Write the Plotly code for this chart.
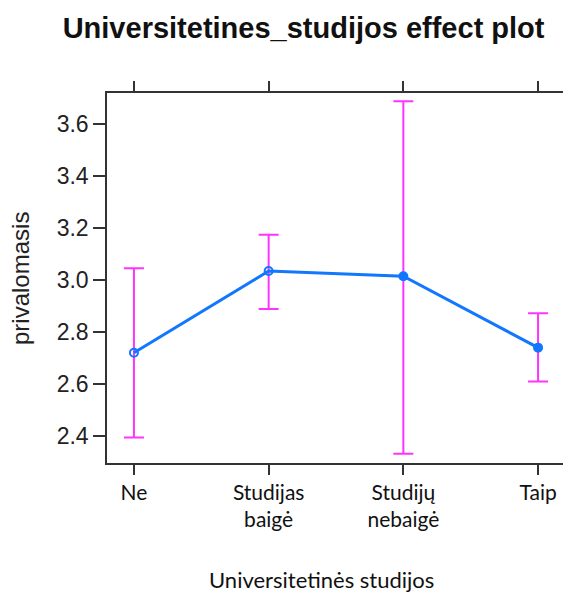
import plotly.graph_objects as go

categories = ["Ne", "Studijas<br>baigė", "Studijų<br>nebaigė", "Taip"]
fit = [2.72, 3.035, 3.015, 2.74]
upper = [3.046, 3.174, 3.688, 2.872]
lower = [2.394, 2.889, 2.332, 2.61]
y_ticks = [2.4, 2.6, 2.8, 3.0, 3.2, 3.4, 3.6]
marker_symbols = ["circle-open", "circle-open", "circle", "circle"]

xpos = list(range(len(categories)))
err_plus = [u - f for u, f in zip(upper, fit)]
err_minus = [f - l for f, l in zip(fit, lower)]

fig = go.Figure()
fig.add_trace(go.Scatter(
    x=xpos, y=fit, mode="markers",
    marker=dict(size=0.1, color="rgba(0,0,0,0)"),
    error_y=dict(type="data", symmetric=False, array=err_plus, arrayminus=err_minus,
                 color="#FF33FF", thickness=2, width=10),
    showlegend=False, hoverinfo="skip"))
fig.add_trace(go.Scatter(
    x=xpos, y=fit, mode="lines+markers",
    line=dict(color="#1177FF", width=3),
    marker=dict(size=8, color="#1177FF", symbol=marker_symbols, line=dict(width=2, color="#1177FF")),
    showlegend=False))

axis_common = dict(showline=True, linecolor="#333333", linewidth=1.5, mirror="ticks",
                   ticks="outside", tickcolor="#333333", tickwidth=1.5, showgrid=False,
                   zeroline=False, automargin=False)

fig.update_layout(
    width=563, height=586,
    margin=dict(l=99, r=6, t=85, b=131),
    paper_bgcolor="white", plot_bgcolor="white",
    title=dict(text="<b>Universitetines_studijos effect plot</b>", x=0.525, xanchor="center",
               y=1 - 20 / 586, yanchor="middle", font=dict(family="Liberation Sans, Arial", size=29, color="#111111")),
    xaxis=dict(tickmode="array", tickvals=xpos, ticktext=categories, range=[-0.2, 3.2],
               ticklen=10, tickfont=dict(family="Lato, Open Sans", size=21, color="#111111"),
               **axis_common),
    yaxis=dict(tickmode="array", tickvals=y_ticks, ticktext=[f"{v:.1f}" for v in y_ticks],
               range=[2.296, 3.72], ticklen=12,
               tickfont=dict(family="Liberation Sans, Arial", size=23, color="#222222"),
               **axis_common),
    annotations=[
        dict(text="privalomasis", xref="paper", yref="paper", x=-0.19, y=0.5,
             xanchor="center", yanchor="middle", textangle=-90, showarrow=False,
             font=dict(family="Liberation Sans, Arial", size=24, color="#222222")),
        dict(text="Universitetinės studijos", xref="paper", yref="paper", x=0.4694, y=-0.316,
             xanchor="center", yanchor="middle", showarrow=False,
             font=dict(family="Lato, Open Sans", size=22, color="#111111")),
    ],
)
fig.write_html("out.html")
